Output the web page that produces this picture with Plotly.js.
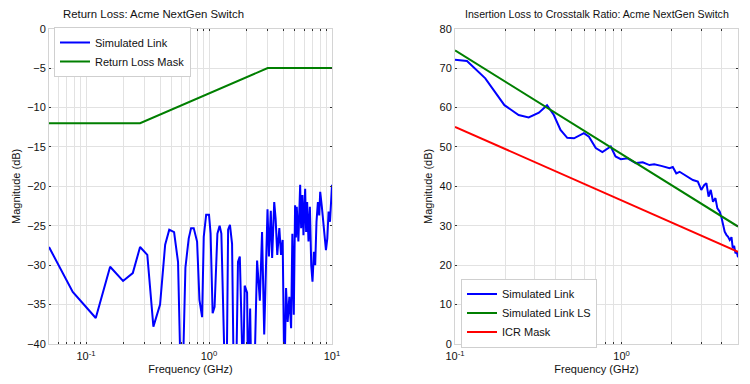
<!DOCTYPE html>
<html><head><meta charset="utf-8">
<script src="https://cdn.plot.ly/plotly-3.0.1.min.js"></script>
<style>html,body{margin:0;padding:0;background:#fff}#chart{width:750px;height:384px}</style>
</head><body><div id="chart"></div>
<script>
// ---- Return Loss (left) ----
const rlFreq = [0.05,0.078,0.12,0.157,0.2,0.24,0.275,0.315,0.353,0.40,0.44,0.475,0.52,0.56,0.59,0.61,0.643,0.684,0.715,0.751,0.80,0.836,0.879,0.906,0.948,1.0,1.03,1.07,1.11,1.17,1.22,1.26,1.35,1.39,1.43,1.48,1.54,1.59,1.66,1.72,1.78,1.84,1.89,1.95,2.04,2.08,2.16,2.21,2.33,2.46,2.59,2.70,2.81,2.99,3.07,3.18,3.26,3.39,3.48,3.59,3.73,3.85,3.97,4.10,4.23,4.36,4.50,4.65,4.76,4.89,5.01,5.09,5.17,5.33,5.51,5.61,5.75,5.86,6.05,6.16,6.28,6.44,6.61,6.78,6.94,7.13,7.30,7.48,7.68,7.87,8.02,8.27,8.48,8.69,8.93,9.16,9.38,9.63,9.87,10.0];
const rlSim  = [-27.7,-33.4,-36.7,-30.2,-32.0,-31.0,-27.7,-28.7,-37.8,-35.0,-27.4,-25.5,-25.8,-29.6,-45,-45,-30.3,-26.6,-25.3,-25.3,-27.0,-34.4,-36.6,-26.4,-23.6,-23.6,-26.0,-36.1,-35.3,-26.0,-25.0,-26.0,-45,-45,-25.5,-24.9,-27.3,-45,-45,-29.6,-28.9,-34.8,-45,-32.6,-33.5,-45,-35.5,-45,-45,-29.4,-34.5,-25.8,-38.8,-22.9,-28.9,-23.1,-29.1,-22.0,-24.1,-28.7,-25.3,-28.7,-26.8,-45,-32.9,-37.2,-34.0,-38.0,-26.0,-36.3,-22.4,-26.5,-22.6,-27.0,-19.8,-25.3,-21.1,-26.2,-20.3,-25.8,-22.0,-27.0,-22.6,-30.0,-32.1,-28.3,-30.0,-24.5,-22.0,-23.7,-20.7,-22.6,-24.5,-26.2,-28.1,-26.6,-23.2,-24.5,-21.6,-19.8];
const rlMaskFreq = [0.05,0.275,3,10];
const rlMask = [-12,-12,-5,-5];

// ---- ICR (right) ----
const icrFreq = [0.1,0.118,0.152,0.198,0.241,0.277,0.319,0.357,0.392,0.43,0.472,0.518,0.594,0.637,0.70,0.767,0.861,0.92,0.99,1.087,1.22,1.34,1.47,1.57,1.73,1.94,2.03,2.13,2.23,2.39,2.56,2.68,2.87,3.01,3.13,3.23,3.33,3.43,3.54,3.66,3.76,3.88,3.97,4.07,4.16,4.26,4.36,4.46,4.57,4.65,4.74,4.83,4.92,5.0];
const icrSim  = [72.1,71.8,67.4,60.6,58.1,57.5,58.7,60.6,58.1,54.3,52.3,52.2,53.5,52.6,49.7,48.7,50.1,47.6,46.9,47.1,45.9,46.1,45.4,45.6,45.2,44.6,44.9,43.3,43.7,42.9,42.0,41.6,41.2,39.1,40.3,40.8,37.4,39.1,36.1,37.0,34.4,33.6,32.3,30.2,28.5,27.7,27.2,26.4,27.1,24.3,24.9,23.0,23.4,22.0];
const icrLsFreq = [0.1,1,5];
const icrLs = [74.5,48.3,29.8];
const icrMaskFreq = [0.1,1,5];
const icrMask = [55.1,36.4,23.4];

// ---- ticks ----
const leftXMajor = [0.1,1,10];
const leftXMinor = [0.06,0.07,0.08,0.09,0.2,0.3,0.4,0.5,0.6,0.7,0.8,0.9,2,3,4,5,6,7,8,9];
const rightXMajor = [0.1,1];
const rightXMinor = [0.2,0.3,0.4,0.5,0.6,0.7,0.8,0.9,2,3,4,5];
const decadeLabels = {0.1:'10<sup>-1</sup>', 1:'10<sup>0</sup>', 10:'10<sup>1</sup>'};
const leftYTicks = [-40,-35,-30,-25,-20,-15,-10,-5,0];
const rightYTicks = [0,10,20,30,40,50,60,70,80];

const FONT = '"Liberation Sans", Arial, sans-serif';
const TXT = '#111';
const W = 750, H = 384;
const BLUE = '#0000ff', GREEN = '#007f00', RED = '#ff0000';
const GRID = '#e2e2e2', FRAME = '#d4d4d4', TICK = '#333';

function xAxis(domain, range, major, minor) {
  return {
    type: 'log', domain: domain, range: range,
    tickmode: 'array', tickvals: major,
    ticktext: major.map(v => decadeLabels[v]),
    ticks: 'inside', ticklen: 2, tickcolor: TICK, tickwidth: 1,
    minor: {tickmode: 'array', tickvals: minor, ticks: 'inside', ticklen: 2,
            tickcolor: TICK, tickwidth: 1, showgrid: true, gridcolor: GRID, gridwidth: 1},
    showline: true, linecolor: FRAME, linewidth: 1, mirror: 'allticks',
    showgrid: true, gridcolor: GRID, gridwidth: 1, zeroline: false,
    tickfont: {family: FONT, size: 11, color: TXT}, ticklabelstandoff: 2,
    title: {text: 'Frequency (GHz)', font: {family: FONT, size: 11, color: TXT}, standoff: 4},
    automargin: false
  };
}
function yAxis(domain, range, ticks, anchor) {
  return {
    domain: domain, range: range, anchor: anchor,
    tickmode: 'array', tickvals: ticks,
    ticks: 'inside', ticklen: 2, tickcolor: TICK, tickwidth: 1,
    showline: true, linecolor: FRAME, linewidth: 1, mirror: 'ticks',
    showgrid: true, gridcolor: GRID, gridwidth: 1, zeroline: false,
    tickfont: {family: FONT, size: 11, color: TXT},
    title: {text: 'Magnitude (dB)', font: {family: FONT, size: 11, color: TXT}, standoff: 4},
    automargin: false
  };
}

const yDom = [1 - 344/H, 1 - 28.7/H];

const data = [
  {x: rlFreq, y: rlSim, type: 'scatter', mode: 'lines', name: 'Simulated Link',
   line: {color: BLUE, width: 2}, xaxis: 'x', yaxis: 'y', legend: 'legend'},
  {x: rlMaskFreq, y: rlMask, type: 'scatter', mode: 'lines', name: 'Return Loss Mask',
   line: {color: GREEN, width: 2}, xaxis: 'x', yaxis: 'y', legend: 'legend'},
  {x: icrFreq, y: icrSim, type: 'scatter', mode: 'lines', name: 'Simulated Link',
   line: {color: BLUE, width: 2}, xaxis: 'x2', yaxis: 'y2', legend: 'legend2'},
  {x: icrLsFreq, y: icrLs, type: 'scatter', mode: 'lines', name: 'Simulated Link LS',
   line: {color: GREEN, width: 2}, xaxis: 'x2', yaxis: 'y2', legend: 'legend2'},
  {x: icrMaskFreq, y: icrMask, type: 'scatter', mode: 'lines', name: 'ICR Mask',
   line: {color: RED, width: 2}, xaxis: 'x2', yaxis: 'y2', legend: 'legend2'}
];

const legendCommon = {
  bgcolor: '#ffffff', bordercolor: '#cfcfcf', borderwidth: 1,
  font: {family: FONT, size: 11, color: TXT},
  xanchor: 'left', yanchor: 'middle', tracegroupgap: 0, itemwidth: 30
};

const layout = {
  width: W, height: H,
  margin: {l: 0, r: 0, t: 0, b: 0},
  paper_bgcolor: '#ffffff', plot_bgcolor: '#ffffff',
  showlegend: true,
  xaxis: Object.assign(xAxis([49/W, 332/W], [Math.log10(0.05), 1], leftXMajor, leftXMinor), {anchor: 'y'}),
  yaxis: yAxis(yDom, [-40, 0], leftYTicks, 'x'),
  xaxis2: Object.assign(xAxis([455/W, 738/W], [-1, Math.log10(5)], rightXMajor, rightXMinor), {anchor: 'y2'}),
  yaxis2: yAxis(yDom, [0, 80], rightYTicks, 'x2'),
  legend: Object.assign({}, legendCommon, {x: 54/W, y: 1 - 52/H}),
  legend2: Object.assign({}, legendCommon, {x: 461/W, y: 1 - 313/H}),
  annotations: [
    {text: 'Return Loss: Acme NextGen Switch', xref: 'paper', yref: 'paper',
     x: 153/W, y: 1 - 14/H, xanchor: 'center', yanchor: 'middle', showarrow: false,
     font: {family: FONT, size: 11.4, color: TXT}},
    {text: 'Insertion Loss to Crosstalk Ratio: Acme NextGen Switch', xref: 'paper', yref: 'paper',
     x: 596.5/W, y: 1 - 14/H, xanchor: 'center', yanchor: 'middle', showarrow: false,
     font: {family: FONT, size: 10.6, color: TXT}}
  ]
};

Plotly.newPlot('chart', data, layout, {displayModeBar: false, staticPlot: true});
</script>
</body></html>
